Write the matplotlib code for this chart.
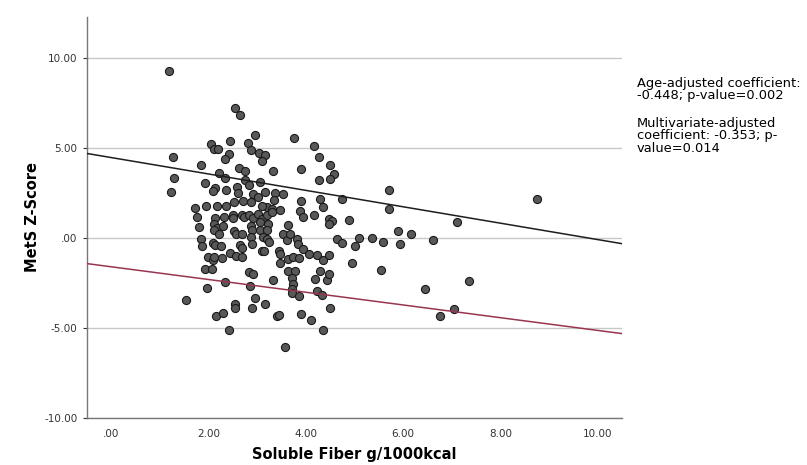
import numpy as np
import matplotlib.pyplot as plt

# soluble fiber (g/1000kcal) and MetS z-score
fiber = [1.19, 1.27, 1.29, 1.22, 1.54, 2.54, 2.64, 2.95, 3.76, 4.17,
         2.05, 2.11, 2.20, 2.45, 2.81, 2.88, 3.03, 3.17, 3.10, 2.42,
         2.34, 1.84, 2.62, 2.75, 3.33, 3.90, 4.26, 4.49, 4.58, 4.50,
         4.26, 2.22, 2.34, 2.75, 2.84, 3.05, 1.92, 2.13, 2.10, 2.35,
         2.59, 2.61, 2.92, 3.02, 5.71, 5.71, 4.75, 4.29, 4.36, 3.90,
         3.87, 3.95, 4.17, 4.47, 4.53, 4.47, 4.88, 3.37, 3.54, 3.35,
         3.20, 3.30, 3.47, 1.72, 1.94, 2.18, 2.36, 2.53, 2.70, 1.77,
         2.13, 2.32, 2.50, 2.69, 2.88, 3.09, 3.16, 2.11, 2.17, 2.11,
         2.30, 2.50, 2.73, 2.84, 2.92, 3.02, 3.09, 3.06, 3.21, 3.30,
         1.81, 2.87, 2.89, 3.06, 3.23, 3.20, 3.63, 2.52, 2.57, 2.68,
         2.22, 1.84, 1.86, 2.09, 2.13, 2.25, 2.65, 2.68, 2.87, 2.89,
         3.11, 3.20, 3.25, 3.53, 3.61, 3.68, 3.81, 3.83, 3.09, 3.13,
         3.44, 3.46, 3.95, 1.99, 2.10, 2.11, 2.28, 2.44, 2.57, 2.68,
         3.47, 3.64, 3.74, 3.85, 4.07, 4.22, 4.35, 4.47, 1.93, 2.06,
         2.84, 2.92, 3.64, 3.78, 3.71, 3.74, 3.33, 4.19, 4.43, 2.34,
         2.85, 1.97, 4.29, 4.48, 3.71, 3.72, 3.85, 4.23, 4.33, 2.54,
         2.54, 2.90, 2.95, 3.16, 2.16, 2.30, 2.42, 4.50, 3.90, 3.40,
         3.44, 4.10, 4.36, 3.57, 4.95, 5.54, 4.64, 4.74, 5.00, 5.10,
         5.37, 5.58, 5.89, 6.17, 5.93, 6.61, 6.44, 6.76, 8.75, 7.11,
         7.35, 7.04]
zscore = [9.24, 4.48, 3.31, 2.52, -3.44, 7.20, 6.79, 5.68, 5.56, 5.07,
          5.22, 4.94, 4.90, 5.35, 5.27, 4.89, 4.68, 4.57, 4.24, 4.67,
          4.36, 4.06, 3.89, 3.68, 3.70, 3.83, 4.49, 4.03, 3.56, 3.28,
          3.18, 3.57, 3.31, 3.22, 2.93, 3.09, 3.04, 2.74, 2.57, 2.67,
          2.81, 2.46, 2.44, 2.26, 2.63, 1.61, 2.17, 2.17, 1.70, 2.02,
          1.48, 1.14, 1.24, 1.02, 0.91, 0.74, 0.99, 2.48, 2.44, 2.07,
          1.70, 1.61, 1.53, 1.64, 1.76, 1.75, 1.76, 1.98, 2.02, 1.16,
          1.07, 1.17, 1.29, 1.26, 1.96, 1.79, 2.53, 0.74, 0.54, 0.41,
          0.68, 1.10, 1.14, 1.24, 1.09, 1.33, 1.06, 0.87, 1.24, 1.42,
          0.59, 0.68, 0.44, 0.41, 0.78, 0.41, 0.72, 0.40, 0.20, 0.22,
          0.22, -0.09, -0.43, -0.30, -0.39, -0.48, -0.39, -0.58, 0.03, -0.37,
          0.03, -0.06, -0.24, 0.22, -0.11, 0.22, -0.06, -0.33, -0.71, -0.76,
          -0.76, -0.89, -0.61, -1.04, -1.22, -1.07, -1.13, -0.86, -1.02, -1.08,
          -1.41, -1.17, -1.08, -1.13, -0.89, -0.98, -1.22, -0.98, -1.76, -1.72,
          -1.91, -2.00, -1.82, -1.87, -2.22, -2.56, -2.37, -2.28, -2.33, -2.48,
          -2.69, -2.78, -1.86, -2.00, -2.83, -3.08, -3.21, -2.93, -3.17, -3.67,
          -3.89, -3.89, -3.36, -3.67, -4.36, -4.17, -5.09, -3.91, -4.22, -4.36,
          -4.26, -4.56, -5.09, -6.08, -1.41, -1.78, -0.06, -0.28, -0.43, -0.02,
          0.00, -0.24, 0.37, 0.22, -0.37, -0.11, -2.83, -4.36, 2.17, 0.87,
          -2.41, -3.94]

# fit lines: intercept, slope
age_fit = (4.45, -0.455)
multi_fit = (-1.61, -0.353)

xticks = [0, 2, 4, 6, 8, 10]
xticklabels = ['.00', '2.00', '4.00', '6.00', '8.00', '10.00']
yticks = [-10, -5, 0, 5, 10]
yticklabels = ['-10.00', '-5.00', '.00', '5.00', '10.00']

note_age = 'Age-adjusted coefficient:\n-0.448; p-value=0.002'
note_multi = 'Multivariate-adjusted\ncoefficient: -0.353; p-\nvalue=0.014'

fig = plt.figure(figsize=(8.07, 4.65), dpi=100)
ax = fig.add_axes([87/807, 47/465, 535/807, 401/465])

xmin, xmax = -0.5, 10.5
ax.set_xlim(xmin, xmax)
ax.set_ylim(-10, 12.25)

for yv in yticks:
    ax.axhline(yv, color='#c8c8c8', lw=1.0, zorder=0)

ax.scatter(fiber, zscore, s=34, c='#585858', edgecolors='#1a1a1a',
           linewidths=0.8, zorder=2)

xl = np.array([xmin, xmax])
ax.plot(xl, age_fit[0] + age_fit[1] * xl, color='#1e1e1e', lw=1.1, zorder=3)
ax.plot(xl, multi_fit[0] + multi_fit[1] * xl, color='#9a3550', lw=1.1, zorder=3)

ax.set_xticks(xticks)
ax.set_xticklabels(xticklabels)
ax.set_yticks(yticks)
ax.set_yticklabels(yticklabels)
ax.tick_params(axis='both', labelsize=7.5, colors='#333333', length=3,
               width=0.8, pad=4)
ax.tick_params(axis='x', length=0, pad=8)

for side in ['top', 'right']:
    ax.spines[side].set_visible(False)
for side in ['left', 'bottom']:
    ax.spines[side].set_color('#777777')
    ax.spines[side].set_linewidth(1.0)

ax.set_xlabel('Soluble Fiber g/1000kcal', fontsize=10.5, fontweight='bold',
              labelpad=6)
ax.set_ylabel('MetS Z-Score', fontsize=10.5, fontweight='bold', labelpad=3)

fig.text(637/807, 1 - 77/465, note_age, fontsize=9.4, va='top', ha='left',
         linespacing=0.95)
fig.text(637/807, 1 - 117/465, note_multi, fontsize=9.4, va='top', ha='left',
         linespacing=0.95)

fig.savefig('out.png', dpi=100)
